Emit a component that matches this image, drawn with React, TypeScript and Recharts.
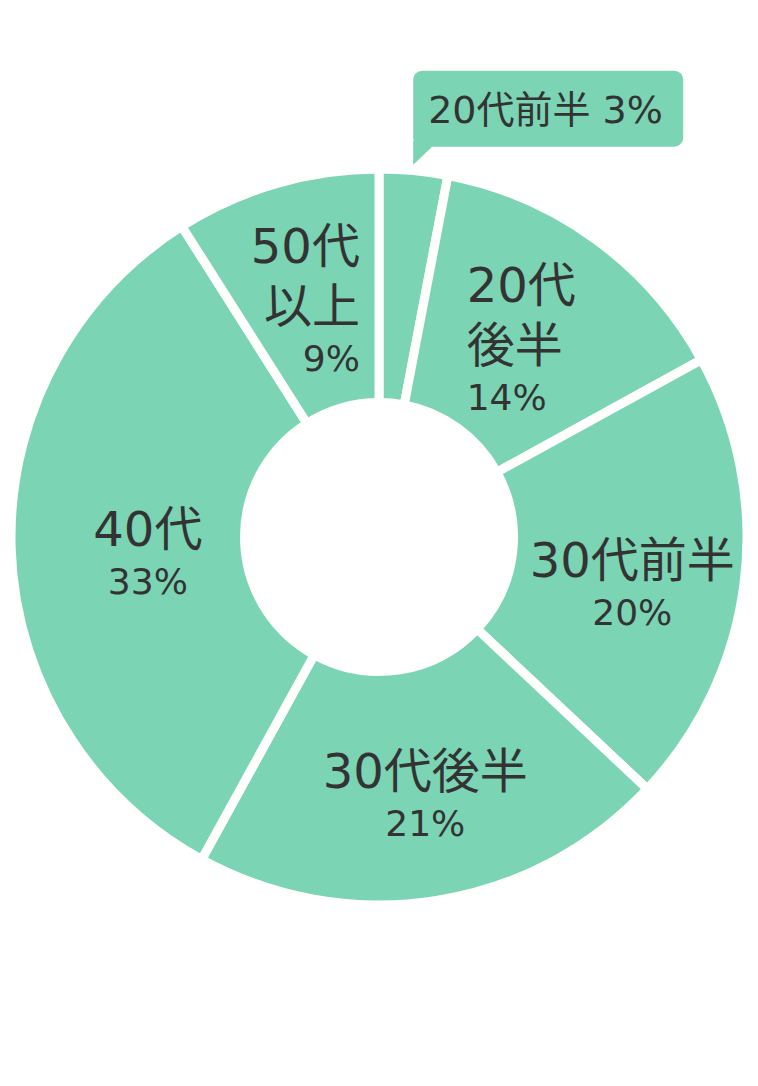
import React from "react";
import { Cell, Pie, PieChart } from "recharts";

const categories = ["20代前半", "20代後半", "30代前半", "30代後半", "40代", "50代以上"];
const shares = [3, 14, 20, 21, 33, 9];
// how each category name is broken into lines inside its slice
const nameLines = [["20代前半"], ["20代", "後半"], ["30代前半"], ["30代後半"], ["40代"], ["50代", "以上"]];

const data = categories.map((name, i) => ({ name, value: shares[i], lines: nameLines[i] }));

// label placement nudges relative to the slice mid point
const labelLayout = [
  { anchor: "start", dx: 0, dy: 0 },
  { anchor: "start", dx: -60, dy: -32 },
  { anchor: "middle", dx: 4, dy: 9 },
  { anchor: "middle", dx: 7, dy: 3 },
  { anchor: "middle", dx: 20, dy: 1 },
  { anchor: "end", dx: 51, dy: -33 },
];

const GREEN = "#7bd4b3";
const INK = "#333333";
const FONT = "'DejaVu Sans', 'Noto Sans CJK JP', sans-serif";
const RAD = Math.PI / 180;

const renderLabel = (props: any) => {
  const { cx, cy, midAngle, innerRadius, outerRadius, index, payload, value } = props;
  const lines: string[] = payload?.lines ?? [props.name];

  if (index === 0) {
    // small slice: callout box above the pie
    const tx = cx + (outerRadius + 6) * Math.cos(-midAngle * RAD);
    const ty = cy + (outerRadius + 6) * Math.sin(-midAngle * RAD);
    const bx = tx - 1;
    const by = ty - 94;
    return (
      <g>
        <rect x={bx} y={by} width={270} height={76} rx={9} fill={GREEN} />
        <polygon points={`${bx},${by + 70} ${bx},${ty} ${bx + 19},${by + 76}`} fill={GREEN} />
        <text x={bx + 15} y={by + 52} fill={INK} fontSize={38} fontFamily={FONT}>
          {`${lines[0]} ${value}%`}
        </text>
      </g>
    );
  }

  const r = (innerRadius + outerRadius) / 2;
  const lay = labelLayout[index];
  const x = cx + r * Math.cos(-midAngle * RAD) + lay.dx;
  let y = cy + r * Math.sin(-midAngle * RAD) + lay.dy;
  const items: React.ReactNode[] = [];
  lines.forEach((ln, i) => {
    if (i > 0) y += 60;
    items.push(
      <text key={`n${i}`} x={x} y={y} textAnchor={lay.anchor} fill={INK} fontSize={48} fontFamily={FONT}>
        {ln}
      </text>
    );
  });
  y += 48;
  items.push(
    <text key="p" x={x} y={y} textAnchor={lay.anchor} fill={INK} fontSize={36} fontFamily={FONT}>
      {`${value}%`}
    </text>
  );
  return <g>{items}</g>;
};

export default function App() {
  return (
    <div style={{ position: "absolute", left: 0, top: 0, background: "#fff" }}>
      <PieChart width={758} height={1086} margin={{ top: 0, right: 0, bottom: 0, left: 0 }}>
        <Pie
          data={data}
          dataKey="value"
          nameKey="name"
          cx={379}
          cy={537}
          outerRadius={368}
          innerRadius={134.5}
          startAngle={90}
          endAngle={-270}
          label={renderLabel}
          labelLine={false}
          isAnimationActive={false}
        >
          {data.map((d) => (
            <Cell key={d.name} fill={GREEN} stroke="#ffffff" strokeWidth={9} />
          ))}
        </Pie>
      </PieChart>
    </div>
  );
}
